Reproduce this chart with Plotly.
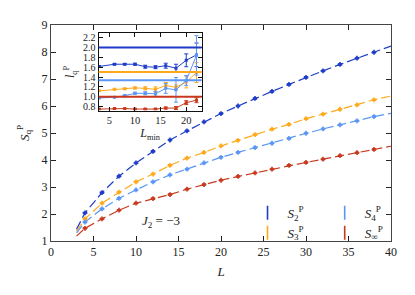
import plotly.graph_objects as go

# ---- main panel data ----
L = [4, 6, 8, 10, 12, 14, 16, 18, 20, 22, 24, 26, 28, 30, 32, 34, 36, 38]
S2 = [2.04, 2.79, 3.40, 3.89, 4.32, 4.74, 5.08, 5.41, 5.72, 6.00, 6.28, 6.54, 6.80, 7.06, 7.30, 7.54, 7.77, 7.99]
S3 = [1.82, 2.40, 2.81, 3.19, 3.48, 3.80, 4.07, 4.28, 4.52, 4.73, 4.94, 5.14, 5.32, 5.53, 5.70, 5.88, 6.04, 6.23]
S4 = [1.70, 2.19, 2.58, 2.89, 3.19, 3.45, 3.66, 3.89, 4.10, 4.28, 4.46, 4.62, 4.80, 4.99, 5.15, 5.30, 5.45, 5.61]
Sinf = [1.47, 1.82, 2.14, 2.40, 2.57, 2.72, 2.92, 3.09, 3.25, 3.39, 3.52, 3.66, 3.80, 3.91, 4.03, 4.16, 4.27, 4.39]
S_err = [0.03] * len(L)

# fitted curves (dashed), read at the plot ends and through the points
fit_L = [3] + L + [40]
fit_S2 = [1.43] + S2 + [8.22]
fit_S3 = [1.36] + S3 + [6.37]
fit_S4 = [1.30] + S4 + [5.73]
fit_Sinf = [1.18] + Sinf + [4.51]

# ---- inset data ----
Lmin = [3, 6, 8, 10, 12, 14, 16, 18, 20, 22]
l2 = [1.615, 1.66, 1.66, 1.66, 1.61, 1.60, 1.63, 1.58, 1.74, 1.85]
l2_err = [0.015, 0.015, 0.015, 0.02, 0.03, 0.03, 0.05, 0.08, 0.13, 0.24]
l3 = [1.12, 1.15, 1.16, 1.18, 1.17, 1.15, 1.23, 1.19, 1.30, 1.49]
l3_err = [0.01, 0.01, 0.015, 0.02, 0.03, 0.05, 0.06, 0.05, 0.12, 0.2]
l4 = [0.975, 0.99, 1.02, 1.07, 1.07, 1.06, 1.17, 1.14, 1.33, 1.84]
l4_err = [0.01, 0.01, 0.02, 0.02, 0.03, 0.05, 0.1, 0.25, 0.1, 0.4]
linf = [0.75, 0.76, 0.76, 0.75, 0.75, 0.75, 0.77, 0.77, 0.88, 0.93]
linf_err = [0.005, 0.005, 0.005, 0.01, 0.01, 0.01, 0.02, 0.03, 0.04, 0.05]
l_ref = [2.0, 1.5, 4 / 3, 1.0]
inset_yticks = [0.8, 1.0, 1.2, 1.4, 1.6, 1.8, 2.0, 2.2]
inset_xticks = [5, 10, 15, 20]

names = ["<i>S</i><sub>2</sub><sup>P</sup>", "<i>S</i><sub>3</sub><sup>P</sup>",
         "<i>S</i><sub>4</sub><sup>P</sup>", "<i>S</i><sub>∞</sub><sup>P</sup>"]
colors = ["#1e3cc8", "#ffa91a", "#5a96f5", "#c8391e"]
legends = ["legend", "legend", "legend2", "legend2"]

FONT = "Liberation Serif, serif"
fig = go.Figure()

main_series = [(S2, fit_S2), (S3, fit_S3), (S4, fit_S4), (Sinf, fit_Sinf)]
for (vals, fitv), c in zip(main_series, colors):
    fig.add_trace(go.Scatter(x=fit_L, y=fitv, mode="lines",
                             line=dict(color=c, width=1.2, dash="9px,4px"),
                             showlegend=False, hoverinfo="skip"))
for (vals, fitv), c in zip(main_series, colors):
    fig.add_trace(go.Scatter(x=L, y=vals, mode="markers", showlegend=False,
                             marker=dict(symbol="cross", size=4, color=c),
                             error_y=dict(type="data", array=S_err, color=c,
                                          thickness=1, width=2)))
# legend entries (error-bar like symbols)
for c, n, lg in zip(colors, names, legends):
    fig.add_trace(go.Scatter(x=[None], y=[None], mode="markers", name=n, legend=lg,
                             marker=dict(symbol="line-ns-open", size=10, color=c,
                                         line=dict(color=c, width=1.6))))

inset_series = [(l2, l2_err), (l3, l3_err), (l4, l4_err), (linf, linf_err)]
for ref, c in zip(l_ref, colors):
    fig.add_shape(type="line", xref="x2 domain", yref="y2", x0=0, x1=1,
                  y0=ref, y1=ref, line=dict(color=c, width=2))
for (vals, err), c in zip(inset_series, colors):
    fig.add_trace(go.Scatter(x=Lmin, y=vals, mode="lines+markers", xaxis="x2", yaxis="y2",
                             line=dict(color=c, width=1),
                             marker=dict(symbol="square", size=3, color=c),
                             error_y=dict(type="data", array=err, color=c,
                                          thickness=1, width=2),
                             showlegend=False))

axis_common = dict(showline=True, linecolor="#444", linewidth=1, mirror="ticks",
                   ticks="inside", tickcolor="#222", ticklen=5, showgrid=False,
                   zeroline=False, tickfont=dict(family=FONT, size=12, color="#222"))

fig.update_layout(
    width=399, height=279,
    margin=dict(l=43, r=12, t=10, b=42),
    paper_bgcolor="white", plot_bgcolor="white",
    font=dict(family=FONT, color="#222"),
    xaxis=dict(range=[0, 40], dtick=5, domain=[0, 1],
               title=dict(text="<i>L</i>", font=dict(family=FONT, size=13), standoff=8),
               **axis_common),
    yaxis=dict(range=[1, 9], dtick=1, domain=[0, 1],
               title=dict(text="<i>S</i><sub>q</sub><sup>P</sup>",
                          font=dict(family=FONT, size=13), standoff=9),
               **axis_common),
    xaxis2=dict(range=[2.9, 23], tickvals=inset_xticks, domain=[0.140, 0.443],
                anchor="y2",
                showline=True, linecolor="#111", linewidth=1, mirror="ticks",
                ticks="inside", ticklen=4, tickcolor="#111", showgrid=False, zeroline=False,
                tickfont=dict(family=FONT, size=10.5),
                title=dict(text="<i>L</i><sub>min</sub>", font=dict(family=FONT, size=12),
                           standoff=2)),
    yaxis2=dict(range=[0.72, 2.29], tickvals=inset_yticks,
                ticktext=[f"{v:.1f}" for v in inset_yticks],
                domain=[0.604, 0.962], anchor="x2",
                showline=True, linecolor="#111", linewidth=1, mirror="ticks",
                ticks="inside", ticklen=4, tickcolor="#111", showgrid=False, zeroline=False,
                tickfont=dict(family=FONT, size=10),
                title=dict(text="<i>l</i><sub>q</sub><sup>P</sup>", font=dict(family=FONT, size=12),
                           standoff=5)),
    legend=dict(x=0.578, y=0.20, xanchor="left", yanchor="top", bgcolor="rgba(0,0,0,0)",
                font=dict(family=FONT, size=13), itemwidth=30, tracegroupgap=0),
    legend2=dict(x=0.805, y=0.20, xanchor="left", yanchor="top", bgcolor="rgba(0,0,0,0)",
                 font=dict(family=FONT, size=13), itemwidth=30, tracegroupgap=0),
    annotations=[dict(text="<i>J</i><sub>2</sub> = −3", x=0.323, y=0.088, xref="paper",
                      yref="paper", showarrow=False, font=dict(family=FONT, size=13),
                      xanchor="center", yanchor="middle")],
)

fig.write_html("out.html")
